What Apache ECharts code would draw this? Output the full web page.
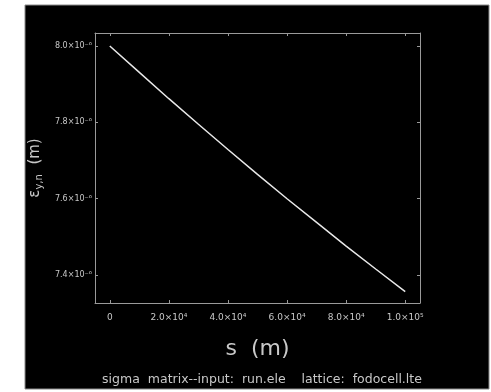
<!DOCTYPE html>
<html>
<head>
<meta charset="utf-8">
<script src="https://cdn.jsdelivr.net/npm/echarts@6/dist/echarts.min.js"></script>
<style>
  html, body { margin: 0; padding: 0; background: #ffffff; }
  #chart { width: 491px; height: 392px; }
</style>
</head>
<body>
<div id="chart"></div>
<script>
// s positions (m)
var sValues = [0, 10000, 20000, 30000, 40000, 50000, 60000, 70000, 80000, 90000, 100000];
// normalized vertical emittance, in units of 1e-6 m
var epsValues = [8.000, 7.931, 7.862, 7.795, 7.729, 7.664, 7.600, 7.538, 7.476, 7.416, 7.357];
// tick values and labels
var xTicks = [0, 20000, 40000, 60000, 80000, 100000];
var xTickLabels = ['0', '2.0×10⁴', '4.0×10⁴', '6.0×10⁴', '8.0×10⁴', '1.0×10⁵'];
var yTicks = [7.4, 7.6, 7.8, 8.0];
var yTickLabels = ['7.4×10⁻⁶', '7.6×10⁻⁶', '7.8×10⁻⁶', '8.0×10⁻⁶'];
var xLabel = 's  (m)';
var yLabelMain = 'ε';
var yLabelSub = 'y,n';
var yLabelUnit = '  (m)';
var footer = 'sigma  matrix--input:  run.ele    lattice:  fodocell.lte';

function nearestLabel(v, ticks, labels) {
  var best = 0, bd = Infinity;
  for (var i = 0; i < ticks.length; i++) {
    var d = Math.abs(ticks[i] - v);
    if (d < bd) { bd = d; best = i; }
  }
  return labels[best];
}

var data = sValues.map(function (s, i) { return [s, epsValues[i]]; });
var axisCol = '#9a9a9a';
var textCol = '#c8c8c8';
var font = 'DejaVu Sans';

var chart = echarts.init(document.getElementById('chart'));
chart.setOption({
  backgroundColor: '#ffffff',
  animation: false,
  graphic: [{
    type: 'rect',
    z: -10,
    shape: { x: 25, y: 5, width: 464, height: 384 },
    style: { fill: '#000000', stroke: '#8a8a8a', lineWidth: 1 }
  }],
  title: {
    text: footer,
    left: 257,
    top: 368,
    textAlign: 'center',
    textStyle: { color: textCol, fontSize: 12.5, fontWeight: 'normal', fontFamily: font }
  },
  grid: { left: 95, top: 33, right: 71, bottom: 89, containLabel: false },
  xAxis: [{
    type: 'value',
    min: -5000, max: 105000,
    position: 'bottom',
    name: xLabel,
    nameLocation: 'middle',
    nameGap: 35,
    nameTextStyle: { color: textCol, fontSize: 22, fontFamily: font },
    axisLine: { show: true, onZero: false, lineStyle: { color: axisCol, width: 1 } },
    axisTick: { show: true, inside: true, length: 3, customValues: xTicks, lineStyle: { color: axisCol } },
    axisLabel: {
      show: true, customValues: xTicks, margin: 10,
      color: textCol, fontSize: 9, fontFamily: font,
      formatter: function (v) { return nearestLabel(v, xTicks, xTickLabels); }
    },
    splitLine: { show: false }
  }, {
    type: 'value',
    min: -5000, max: 105000,
    position: 'top',
    axisLine: { show: true, onZero: false, lineStyle: { color: axisCol, width: 1 } },
    axisTick: { show: true, inside: true, length: 3, customValues: xTicks, lineStyle: { color: axisCol } },
    axisLabel: { show: false },
    splitLine: { show: false }
  }],
  yAxis: [{
    type: 'value',
    min: 7.327, max: 8.034,
    position: 'left',
    name: '{a|' + yLabelMain + '}{s|' + yLabelSub + '}{a|' + yLabelUnit + '}',
    nameLocation: 'middle',
    nameGap: 46,
    nameRotate: 90,
    nameTextStyle: {
      color: textCol, fontFamily: font,
      rich: {
        a: { color: textCol, fontSize: 15, fontFamily: font },
        s: { color: textCol, fontSize: 10, fontFamily: font, padding: [8, 0, 0, 0] }
      }
    },
    axisLine: { show: true, onZero: false, lineStyle: { color: axisCol, width: 1 } },
    axisTick: { show: true, inside: true, length: 3, customValues: yTicks, lineStyle: { color: axisCol } },
    axisLabel: {
      show: true, customValues: yTicks, margin: 3,
      color: textCol, fontSize: 8, fontFamily: font,
      formatter: function (v) { return nearestLabel(v, yTicks, yTickLabels); }
    },
    splitLine: { show: false }
  }, {
    type: 'value',
    min: 7.327, max: 8.034,
    position: 'right',
    axisLine: { show: true, onZero: false, lineStyle: { color: axisCol, width: 1 } },
    axisTick: { show: true, inside: true, length: 3, customValues: yTicks, lineStyle: { color: axisCol } },
    axisLabel: { show: false },
    splitLine: { show: false }
  }],
  series: [{
    type: 'line',
    xAxisIndex: 0,
    yAxisIndex: 0,
    data: data,
    showSymbol: false,
    smooth: false,
    lineStyle: { color: '#e8e8e8', width: 1.5 }
  }]
});
</script>
</body>
</html>
